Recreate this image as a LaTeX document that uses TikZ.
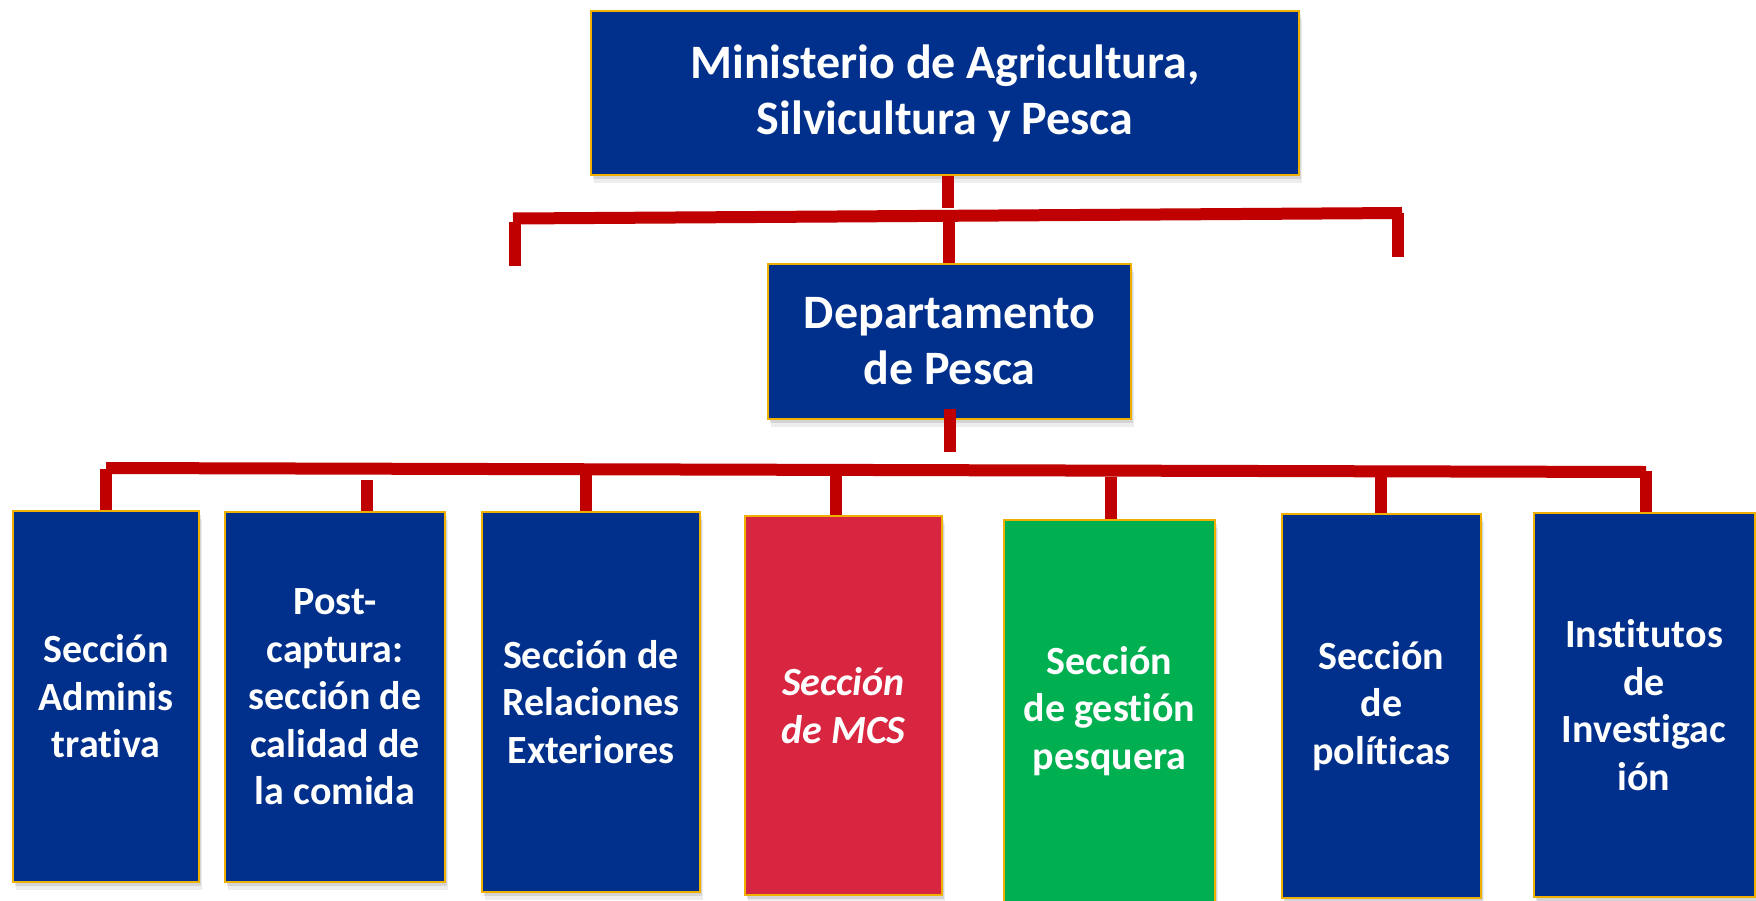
\documentclass[tikz,border=0pt]{standalone}
\usepackage{fontspec}
\setmainfont{Carlito}[Ligatures=NoCommon]
\usetikzlibrary{shadows}
\definecolor{boxblue}{RGB}{0,48,140}
\definecolor{boxred}{RGB}{217,38,64}
\definecolor{boxgreen}{RGB}{0,176,80}
\definecolor{barred}{RGB}{192,0,0}
\definecolor{boxgold}{RGB}{240,176,0}
\begin{document}
\begin{tikzpicture}[x=1pt,y=-1pt,
  orgbox/.style={draw=boxgold, line width=2pt, fill=boxblue, text=white, inner sep=0pt, align=center,
     general shadow={fill=black, opacity=0.10, shadow xshift=2pt, shadow yshift=-4pt},
     general shadow={fill=black, opacity=0.07, shadow xshift=3pt, shadow yshift=-8pt}},
  bigtext/.style={font=\fontsize{48}{56}\selectfont\bfseries},
  smalltext/.style={font=\fontsize{40}{47.5}\selectfont\bfseries},
  bar/.style={draw=barred, line width=12pt},
]
\useasboundingbox[fill=white] (0,0) rectangle (1756,900);

% boxes
\node[orgbox, bigtext, minimum width=708pt, minimum height=164pt] (min) at (945,93) {Ministerio de Agricultura,\\Silvicultura y Pesca};
\node[orgbox, bigtext, minimum width=363pt, minimum height=155pt] (dep) at (949.5,341.5) {Departamento\\de Pesca};

\node[orgbox, smalltext, minimum width=186pt, minimum height=371pt] (b1) at (106,696.5) {Sección\\Adminis\\trativa};
\node[orgbox, smalltext, minimum width=220pt, minimum height=370pt] (b2) at (335,697) {Post-\\captura:\\sección de\\calidad de\\la comida};
\node[orgbox, smalltext, minimum width=218pt, minimum height=380pt] (b3) at (591,702) {Sección de\\Relaciones\\Exteriores};
\node[orgbox, smalltext, fill=boxred, font=\fontsize{40}{47.5}\selectfont\bfseries\itshape, minimum width=197pt, minimum height=379pt] (b4) at (843.5,705.5) {Sección\\de MCS};
\node[orgbox, smalltext, fill=boxgreen, minimum width=211pt, minimum height=382pt] (b5) at (1109.5,711) {Sección\\de gestión\\pesquera};
\node[orgbox, smalltext, minimum width=199pt, minimum height=384pt] (b6) at (1381.5,706) {Sección\\de\\políticas};
\node[orgbox, smalltext, minimum width=221pt, minimum height=384pt] (b7) at (1644,705) {Institutos\\de\\Investigac\\ión};

% junction coordinates
\coordinate (mj) at (948,208);
\coordinate (dj) at (949,222);
\coordinate (ub1) at (513,218.5);
\coordinate (ub2) at (1402,213);
\coordinate (lt1) at (515,222);
\coordinate (lt2) at (515,266);
\coordinate (rt1) at (1398,213);
\coordinate (rt2) at (1398,257);
\coordinate (dd1) at (950,409);
\coordinate (dd2) at (950,452);
\coordinate (lb1) at (106,468);
\coordinate (lb2) at (1646,472);
\coordinate (t1) at (106,469);
\coordinate (t2) at (367,480);
\coordinate (t3) at (586,470);
\coordinate (t4) at (836,476);
\coordinate (t5) at (1111,477);
\coordinate (t6) at (1381,471);
\coordinate (t7) at (1646,471);

% connectors
\draw[bar] (min.south -| mj) -- (mj);
\draw[bar] (ub1) -- (ub2);
\draw[bar] (lt1) -- (lt2);
\draw[bar] (rt1) -- (rt2);
\draw[bar] (dj) -- (dj |- dep.north);
\draw[bar] (dd1) -- (dd2);
\draw[bar] (lb1) -- (lb2);
\draw[bar] (t1) -- (t1 |- b1.north);
\draw[bar] (t2) -- (t2 |- b2.north);
\draw[bar] (t3) -- (t3 |- b3.north);
\draw[bar] (t4) -- (t4 |- b4.north);
\draw[bar] (t5) -- (t5 |- b5.north);
\draw[bar] (t6) -- (t6 |- b6.north);
\draw[bar] (t7) -- (t7 |- b7.north);
\end{tikzpicture}
\end{document}
